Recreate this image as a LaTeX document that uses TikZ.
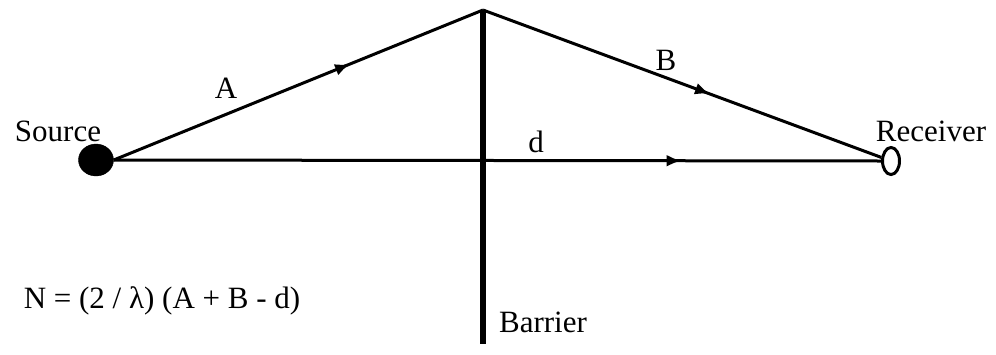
\documentclass[tikz,border=0pt]{standalone}
\usepackage{fontspec}
\setmainfont{Liberation Serif}
\usetikzlibrary{positioning, arrows.meta, shapes.geometric, decorations.markings}
\tikzset{
  % --- rays and barrier ---
  ray/.style={line width=3pt},
  midarrow/.style={postaction={decorate}, decoration={markings,
    mark=at position #1 with {\arrow{Latex[length=15pt, width=12pt]}}}},
  wall/.style={line width=5.5pt},
  % --- end points ---
  srcdot/.style={draw, ellipse, fill=black, minimum width=35pt,
    minimum height=32pt, inner sep=0pt},
  rcvdot/.style={draw, ellipse, line width=3pt, minimum width=17pt,
    minimum height=27pt, inner sep=0pt},
  % --- labels ---
  lbl/.style={font=\fontsize{31}{36}\selectfont, inner sep=0pt},
}

\begin{document}
\begin{tikzpicture}[x=1pt, y=-1pt]
    \useasboundingbox (0,0) rectangle (996,354);
    % ---- Source, receiver, barrier ----
    \node[srcdot] (src) at (96,160) {};
    \node[rcvdot] (rcv) at (891,161) {};
    \coordinate (top) at (483,10);
    \coordinate (foot) at (483,344);
    \draw[wall] (top) -- (foot);
    % ---- Paths ----
    \draw[ray, midarrow=0.64] (src.east) -- (top);
    \draw[ray, midarrow=0.57] (top) -- (rcv);
    \draw[ray, midarrow=0.74] (src.east) -- (rcv.west);
    % ---- Labels ----
    \node[lbl] (srclbl) at (58,131) {Source};
    \node[lbl] (rcvlbl) at (931,131) {Receiver};
    \node[lbl] (albl) at (226,88) {A};
    \node[lbl] (blbl) at (666,60) {B};
    \node[lbl] (dlbl) at (536,142) {d};
    \node[lbl] (wlbl) at (543,322) {Barrier};
    \node[lbl] (eqn) at (162,301) {N = (2 / λ) (A + B - d)};
\end{tikzpicture}
\end{document}
